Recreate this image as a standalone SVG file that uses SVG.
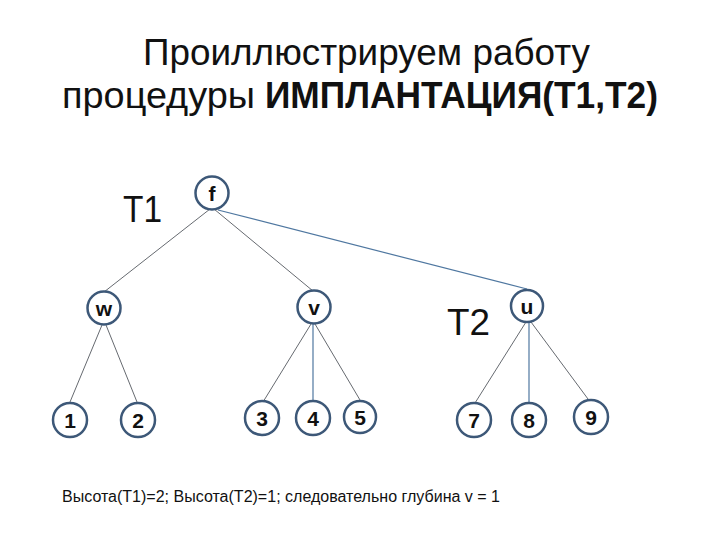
<svg xmlns="http://www.w3.org/2000/svg" width="720" height="540" viewBox="0 0 720 540">
<style>
.bg{fill:#ffffff}
.node circle{fill:#ffffff;stroke:#3d5878;stroke-width:2.5}
.node text{font-family:"Liberation Sans",Arial,sans-serif;font-weight:bold;font-size:21px;fill:#111;text-anchor:middle}
.edge{stroke:#666a70;stroke-width:1;fill:none}
.edge.b{stroke:#4f77a0;stroke-width:1.2}
.title{font-family:"Liberation Sans",Arial,sans-serif;font-size:37px;fill:#111}
.lab{font-family:"Liberation Sans",Arial,sans-serif;font-size:36px;fill:#111}
.note{font-family:"Liberation Sans",Arial,sans-serif;font-size:16px;fill:#111}
</style>
<rect class="bg" x="0" y="0" width="720" height="540"/>
<text class="title" x="143" y="65" textLength="447" lengthAdjust="spacingAndGlyphs">Проиллюстрируем работу</text>
<text class="title" y="108"><tspan x="62" textLength="193" lengthAdjust="spacingAndGlyphs">процедуры</tspan><tspan x="265" font-weight="bold" textLength="393" lengthAdjust="spacingAndGlyphs">ИМПЛАНТАЦИЯ(T1,T2)</tspan></text>
<text class="lab" x="123" y="222" textLength="39" lengthAdjust="spacingAndGlyphs">T1</text>
<text class="lab" x="447" y="335" textLength="43" lengthAdjust="spacingAndGlyphs">T2</text>
<g id="connectors">
<line class="edge" x1="210" y1="209" x2="104" y2="292"/>
<line class="edge" x1="214" y1="209" x2="313" y2="291"/>
<line class="edge b" x1="218" y1="210" x2="527" y2="289"/>
<line class="edge" x1="102" y1="325" x2="70" y2="402"/>
<line class="edge" x1="106" y1="325" x2="137" y2="402"/>
<line class="edge" x1="311" y1="324" x2="263" y2="402"/>
<line class="edge b" x1="313" y1="324" x2="313" y2="402"/>
<line class="edge" x1="315" y1="324" x2="360" y2="400"/>
<line class="edge" x1="526" y1="322" x2="475" y2="403"/>
<line class="edge b" x1="529" y1="322" x2="529" y2="403"/>
<line class="edge" x1="531" y1="322" x2="588" y2="399"/>
</g>
<g id="node-f" class="node"><circle cx="212" cy="193" r="16.5"/><text x="212" y="201">f</text></g>
<g id="node-w" class="node"><circle cx="104" cy="308" r="16.5"/><text x="104" y="316">w</text></g>
<g id="node-v" class="node"><circle cx="314" cy="307" r="16.5"/><text x="314" y="315">v</text></g>
<g id="node-u" class="node"><circle cx="527" cy="306" r="16"/><text x="527" y="314">u</text></g>
<g id="node-1" class="node"><circle cx="70" cy="420" r="17"/><text x="70" y="428">1</text></g>
<g id="node-2" class="node"><circle cx="138" cy="420" r="17"/><text x="138" y="428">2</text></g>
<g id="node-3" class="node"><circle cx="262" cy="418" r="17"/><text x="262" y="426">3</text></g>
<g id="node-4" class="node"><circle cx="313" cy="418" r="17"/><text x="313" y="426">4</text></g>
<g id="node-5" class="node"><circle cx="360" cy="417" r="16"/><text x="360" y="425">5</text></g>
<g id="node-7" class="node"><circle cx="474" cy="420" r="17"/><text x="474" y="428">7</text></g>
<g id="node-8" class="node"><circle cx="529" cy="420" r="17"/><text x="529" y="428">8</text></g>
<g id="node-9" class="node"><circle cx="591" cy="417" r="17"/><text x="591" y="425">9</text></g>
<text class="note" x="62" y="502" textLength="438" lengthAdjust="spacingAndGlyphs">Высота(T1)=2; Высота(T2)=1; следовательно глубина v = 1</text>
</svg>
